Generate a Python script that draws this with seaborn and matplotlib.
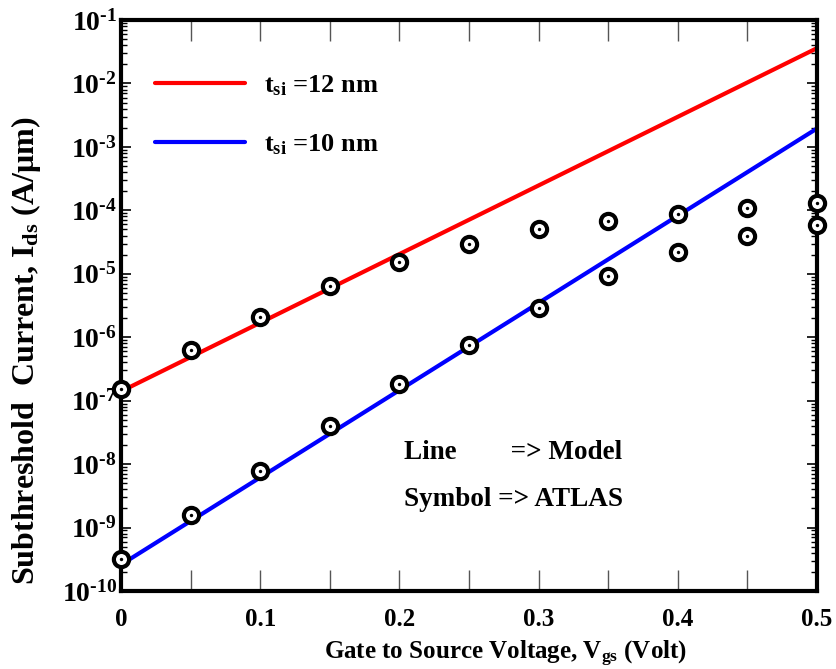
import numpy as np
import pandas as pd
import matplotlib
matplotlib.use('Agg')
import matplotlib.pyplot as plt
import seaborn as sns
from matplotlib.ticker import LogLocator, FixedLocator, NullFormatter

# ATLAS simulation points (symbols)
vgs = [0, 0.05, 0.1, 0.15, 0.2, 0.25, 0.3, 0.35, 0.4, 0.45, 0.5]
atlas_12 = [1.55e-7, 6.2e-7, 2.1e-6, 6.5e-6, 1.56e-5, 3.0e-5, 5.0e-5, 6.9e-5, 8.9e-5, 1.07e-4, 1.29e-4]
atlas_10 = [3.2e-10, 1.6e-9, 7.8e-9, 4.0e-8, 1.85e-7, 7.6e-7, 2.9e-6, 9.1e-6, 2.2e-5, 3.9e-5, 5.8e-5]

# model lines (straight on log scale, read at both ends)
model_vgs = [0, 0.5]
model_12 = [1.4e-7, 3.6e-2]
model_10 = [2.6e-10, 1.95e-3]

labels = [r'$\mathbf{t_{si}}$ =12 nm', r'$\mathbf{t_{si}}$ =10 nm']
decades = list(range(-10, 0))

sns.set_style('white')
plt.rcParams['font.family'] = ['Liberation Serif', 'DejaVu Serif']
plt.rcParams['font.weight'] = 'bold'
plt.rcParams['mathtext.fontset'] = 'custom'
plt.rcParams['mathtext.rm'] = 'Liberation Serif:bold'
plt.rcParams['mathtext.bf'] = 'Liberation Serif:bold'
plt.rcParams['mathtext.it'] = 'Liberation Serif:bold'
for key in ['text.color', 'axes.labelcolor', 'xtick.color', 'ytick.color']:
    plt.rcParams[key] = 'black'

model = pd.DataFrame({
    'vgs': model_vgs * 2,
    'ids': model_12 + model_10,
    'case': [labels[0]] * 2 + [labels[1]] * 2,
})
atlas = pd.DataFrame({
    'vgs': vgs * 2,
    'ids': atlas_12 + atlas_10,
})

fig = plt.figure(figsize=(8.37, 6.69), dpi=100)
ax = fig.add_axes([121 / 837, 1 - 591 / 669, 696 / 837, 571 / 669])

sns.lineplot(data=model, x='vgs', y='ids', hue='case',
             palette=['#ff0000', '#0000ff'], linewidth=3, ax=ax, zorder=2)
sns.scatterplot(data=atlas, x='vgs', y='ids', marker='o', s=120,
                facecolor='white', edgecolor='black', linewidth=3,
                ax=ax, zorder=3, clip_on=False, legend=False)
sns.scatterplot(data=atlas, x='vgs', y='ids', marker='o', s=6,
                color='black', linewidth=0, ax=ax, zorder=4,
                clip_on=False, legend=False)

ax.set_yscale('log')
ax.set_xlim(0, 0.5)
ax.set_ylim(1e-10, 1e-1)

# ticks
ax.xaxis.set_major_locator(FixedLocator([0, 0.1, 0.2, 0.3, 0.4, 0.5]))
ax.xaxis.set_minor_locator(FixedLocator([0.05, 0.15, 0.25, 0.35, 0.45]))
ax.set_xticklabels(['0', '0.1', '0.2', '0.3', '0.4', '0.5'])
ax.tick_params(axis='x', which='both', direction='in', length=15, width=1,
               color='#555555', labelcolor='black', top=True, bottom=True,
               labelsize=18, pad=12)
ax.yaxis.set_minor_locator(LogLocator(base=10, subs=np.arange(2, 10), numticks=20))
ax.yaxis.set_minor_formatter(NullFormatter())
ax.set_yticks([10.0 ** k for k in decades])
ax.set_yticklabels([r'$10^{\text{-}%d}$' % (-k) for k in decades])
ax.tick_params(axis='y', which='major', direction='in', length=7, width=1.2,
               left=True, right=True, labelsize=20, pad=3)
ax.tick_params(axis='y', which='minor', direction='in', length=4, width=1,
               left=True, right=True)

for s in ax.spines.values():
    s.set_linewidth(3)
    s.set_color('black')

ax.set_xlabel(r'Gate to Source Voltage, V$_{\mathbf{gs}}$ (Volt)',
              fontsize=18, fontweight='bold', va='center')
ax.xaxis.set_label_coords(0.553, -0.11)
ax.set_ylabel(r'Subthreshold  Current, I$_{\mathbf{ds}}$ (A/μm)',
              fontsize=23, fontweight='bold', va='center')
ax.yaxis.set_label_coords(-0.137, 0.42)

ax.legend(loc='upper left', bbox_to_anchor=(0.015, 0.948), frameon=False,
          fontsize=19, handlelength=3.4, handletextpad=0.72, labelspacing=1.3)

ax.text(0.406, 0.242, 'Line        => Model', transform=ax.transAxes,
        fontsize=19.5, fontweight='bold', va='center')
ax.text(0.406, 0.160, 'Symbol => ATLAS', transform=ax.transAxes,
        fontsize=19.5, fontweight='bold', va='center')

fig.savefig('out.png', dpi=100)
